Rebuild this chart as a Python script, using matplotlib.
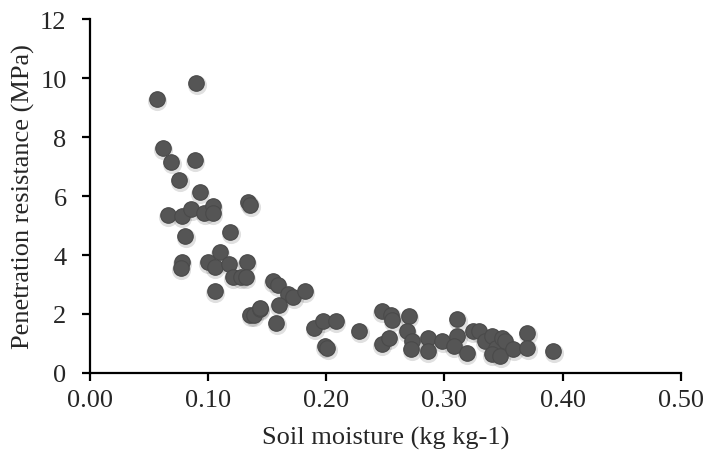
import matplotlib
matplotlib.use("Agg")
import matplotlib.pyplot as plt
import matplotlib.transforms as mtransforms

soil_moisture = [0.057, 0.090, 0.062, 0.069, 0.089, 0.076, 0.093, 0.066, 0.078, 0.086,
                 0.097, 0.104, 0.104, 0.081, 0.134, 0.136, 0.119, 0.100, 0.078, 0.077,
                 0.110, 0.106, 0.118, 0.133, 0.121, 0.128, 0.132, 0.106, 0.136, 0.139,
                 0.144, 0.155, 0.159, 0.168, 0.172, 0.182, 0.160, 0.144, 0.158, 0.190,
                 0.197, 0.208, 0.199, 0.201, 0.228, 0.247, 0.255, 0.256, 0.270, 0.268,
                 0.247, 0.253, 0.273, 0.272, 0.286, 0.286, 0.298, 0.311, 0.311, 0.308,
                 0.319, 0.324, 0.329, 0.334, 0.340, 0.344, 0.349, 0.351, 0.340, 0.347,
                 0.358, 0.370, 0.370, 0.392]
penetration_resistance = [9.29, 9.82, 7.62, 7.15, 7.21, 6.53, 6.13, 5.34, 5.31, 5.55,
                          5.41, 5.65, 5.42, 4.66, 5.79, 5.68, 4.77, 3.75, 3.75, 3.55,
                          4.09, 3.61, 3.68, 3.78, 3.27, 3.27, 3.25, 2.77, 1.95, 1.98,
                          2.16, 3.13, 2.97, 2.67, 2.56, 2.77, 2.29, 2.22, 1.71, 1.54,
                          1.75, 1.75, 0.90, 0.86, 1.41, 2.09, 1.95, 1.78, 1.92, 1.44,
                          0.97, 1.20, 1.10, 0.83, 1.17, 0.73, 1.10, 1.82, 1.24, 0.93,
                          0.69, 1.44, 1.44, 1.10, 1.24, 0.86, 1.17, 1.07, 0.66, 0.56,
                          0.80, 1.34, 0.86, 0.76]

x_ticks = [0.0, 0.1, 0.2, 0.3, 0.4, 0.5]
x_ticklabels = ["0.00", "0.10", "0.20", "0.30", "0.40", "0.50"]
y_ticks = [0, 2, 4, 6, 8, 10, 12]

plt.rcParams['font.family'] = ['Liberation Serif', 'DejaVu Serif']

fig = plt.figure(figsize=(7.05, 4.52), dpi=100)
ax = fig.add_axes([0.127, 0.1726, 0.839, 0.783])

# soft shadow under the markers
shadow = mtransforms.offset_copy(ax.transData, fig=fig, x=0.5, y=-2.0, units='dots')
ax.scatter(soil_moisture, penetration_resistance, s=190, color='#000000',
           alpha=0.12, linewidths=0, transform=shadow, zorder=2)
ax.scatter(soil_moisture, penetration_resistance, s=125, color='#555555',
           edgecolors='#4a4a4a', linewidths=0.8, zorder=3)

ax.set_xlim(0, 0.5)
ax.set_ylim(0, 12)
ax.set_xticks(x_ticks)
ax.set_xticklabels(x_ticklabels)
ax.set_yticks(y_ticks)

for s in ['top', 'right']:
    ax.spines[s].set_visible(False)
for s in ['left', 'bottom']:
    ax.spines[s].set_linewidth(1.6)
    ax.spines[s].set_color('#000000')

ax.tick_params(axis='both', direction='out', length=5.5, width=1.6, labelsize=19,
               colors='#000000', labelcolor='#262626')
ax.tick_params(axis='x', pad=6)
ax.tick_params(axis='y', pad=11)

ax.set_xlabel("Soil moisture (kg kg-1)", fontsize=19, color='#262626', labelpad=11)
ax.set_ylabel("Penetration resistance (MPa)", fontsize=19, color='#262626', labelpad=4)

fig.savefig("out.png", dpi=100)
